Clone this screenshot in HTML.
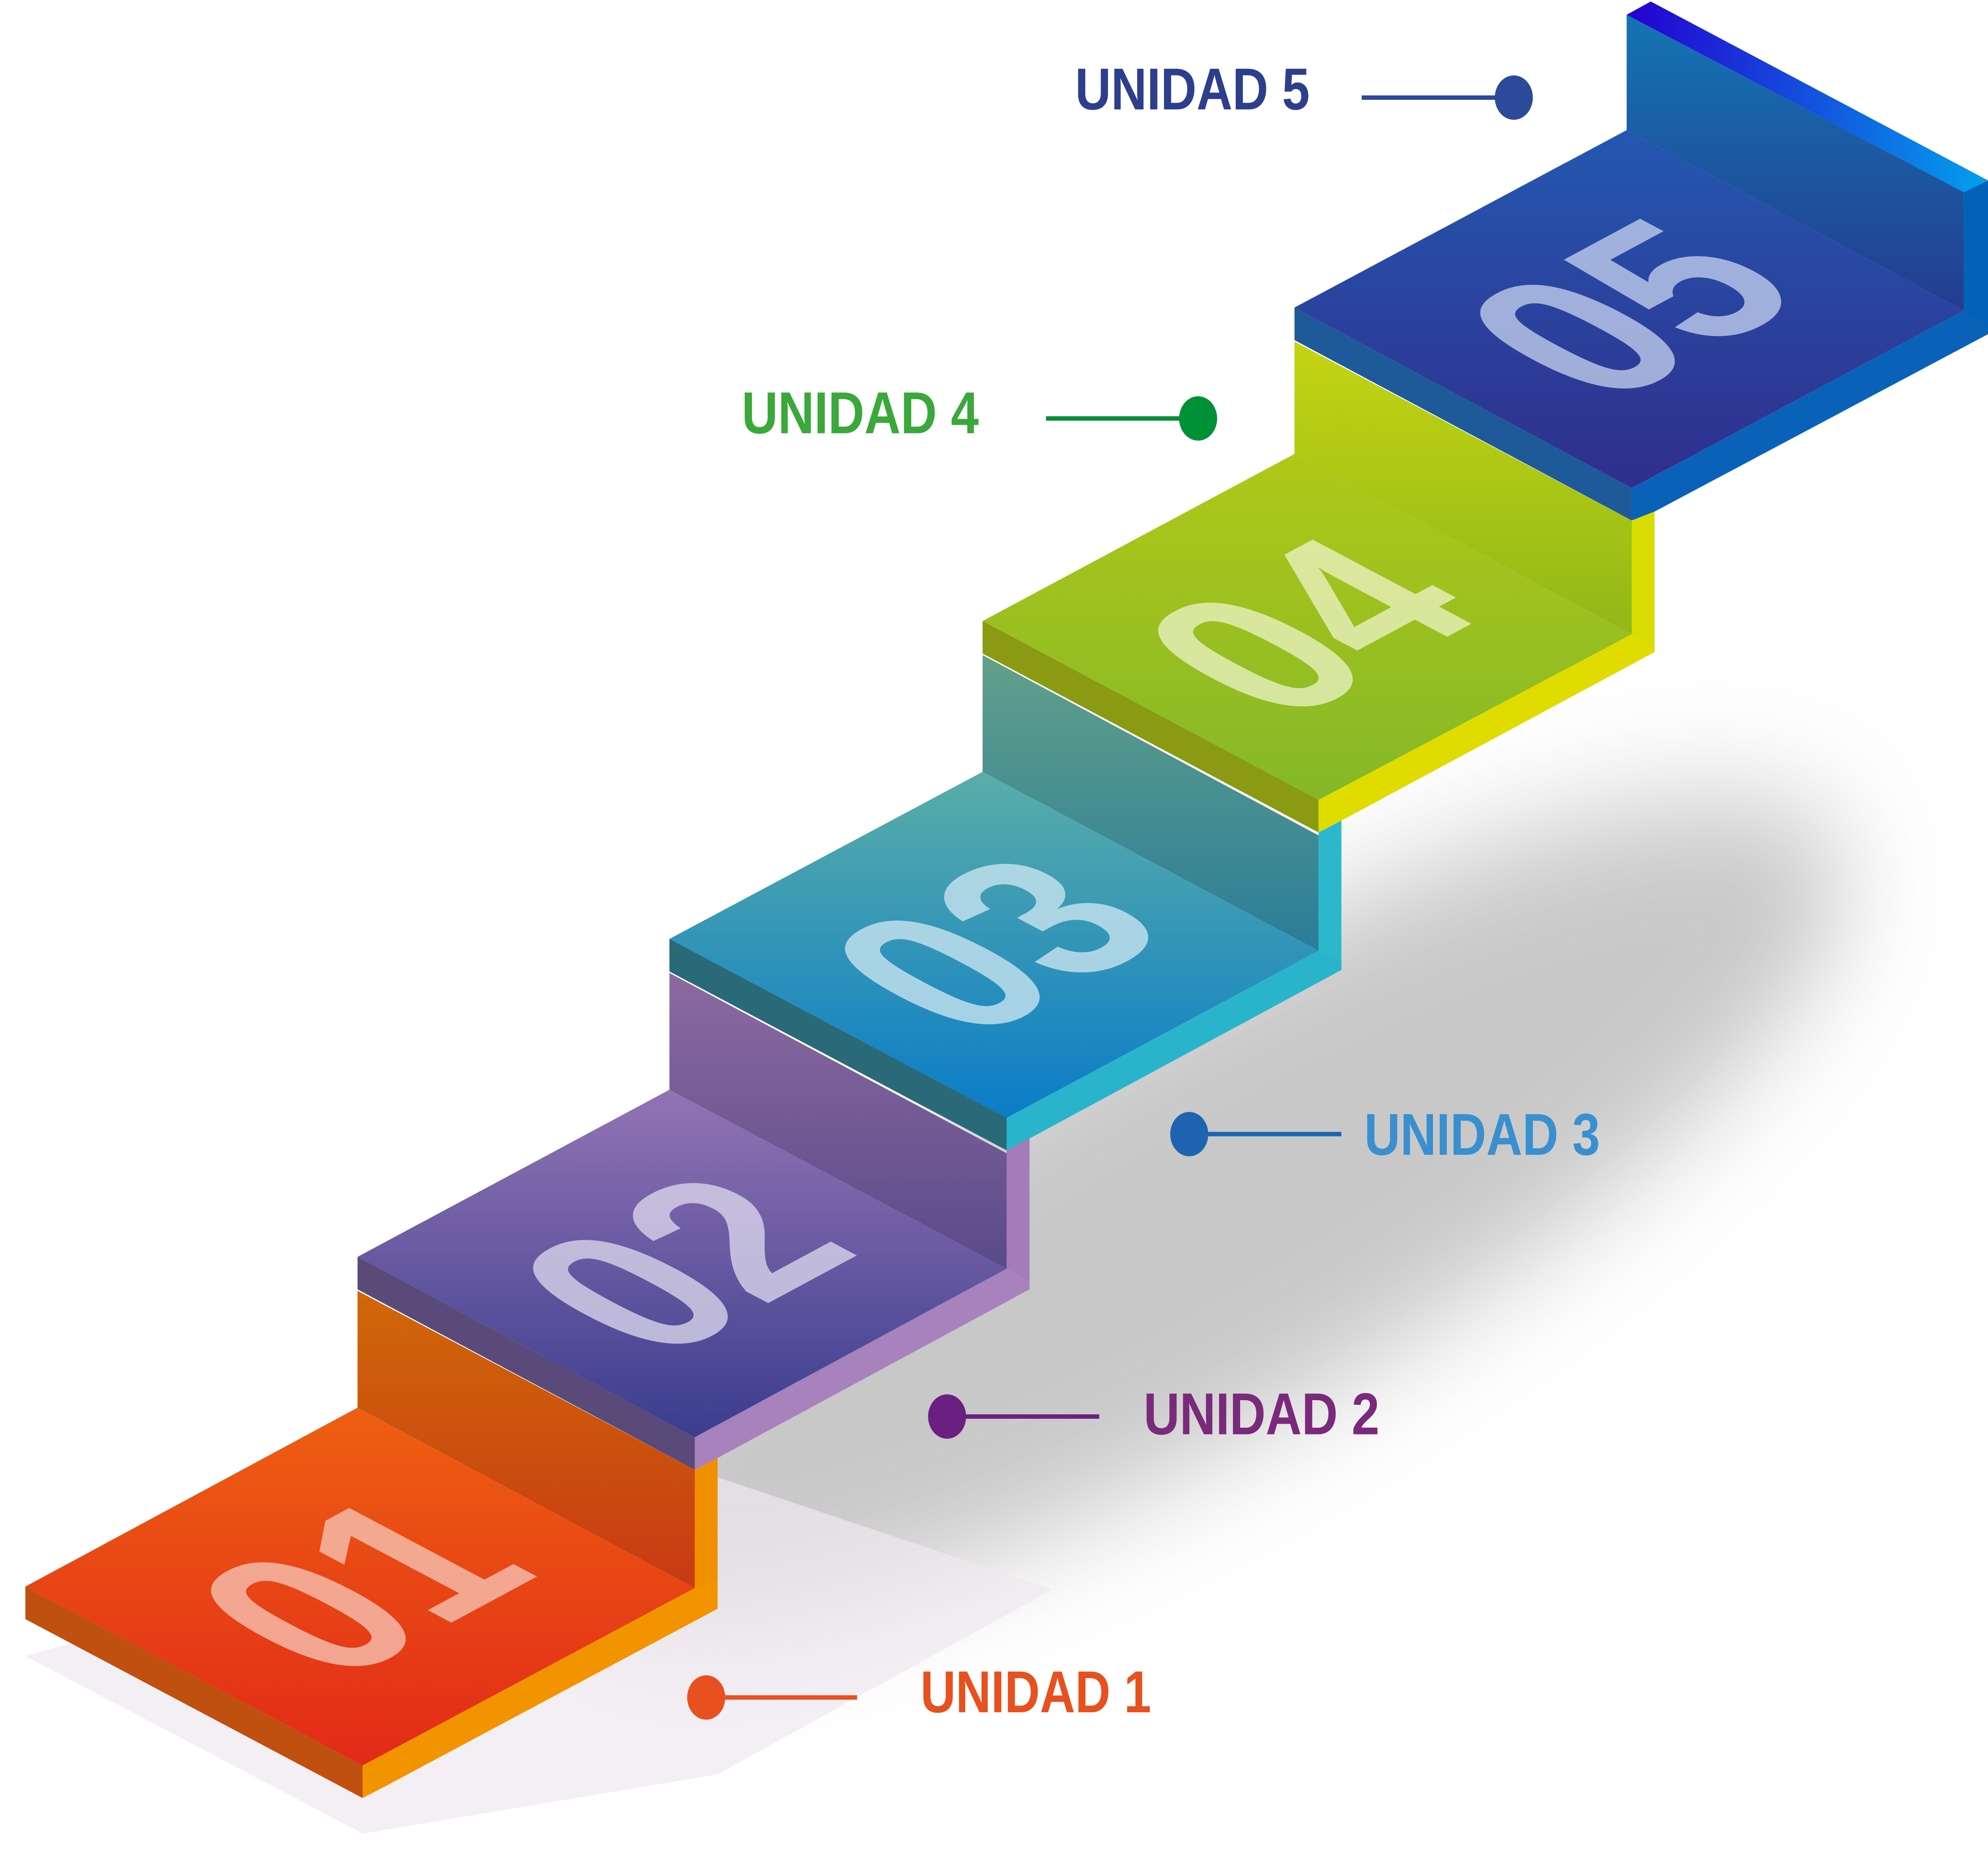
<!DOCTYPE html>
<html><head><meta charset="utf-8">
<meta name="viewport" content="width=5825">
<style>
html,body{margin:0;padding:0;background:#fff;width:100%;height:100%;overflow:hidden;}
svg{display:block;position:fixed;left:0;top:0;width:100vw;height:100vh;}
</style>
</head><body>
<svg viewBox="0 0 1568 1264" preserveAspectRatio="none" xmlns="http://www.w3.org/2000/svg">
<defs>
<filter id="bl" x="-50%" y="-50%" width="200%" height="200%"><feGaussianBlur stdDeviation="40"/></filter>
<linearGradient id="g1" x1="0" y1="0" x2="0" y2="1"><stop offset="0" stop-color="#ee6012"/><stop offset="1" stop-color="#e22a18"/></linearGradient>
<linearGradient id="r2" x1="0" y1="0" x2="0" y2="1"><stop offset="0" stop-color="#d06808"/><stop offset="1" stop-color="#c83a14"/></linearGradient>
<linearGradient id="g2" x1="0" y1="0" x2="0" y2="1"><stop offset="0" stop-color="#9274b4"/><stop offset="1" stop-color="#3a3d8e"/></linearGradient>
<linearGradient id="r3" x1="0" y1="0" x2="0" y2="1"><stop offset="0" stop-color="#8c6aa0"/><stop offset="1" stop-color="#5a4a8a"/></linearGradient>
<linearGradient id="g3" x1="0" y1="0" x2="0" y2="1"><stop offset="0" stop-color="#5aaea8"/><stop offset="1" stop-color="#0a7cc8"/></linearGradient>
<linearGradient id="r4" x1="0" y1="0" x2="0" y2="1"><stop offset="0" stop-color="#62a08a"/><stop offset="1" stop-color="#2a7c98"/></linearGradient>
<linearGradient id="g4" x1="0" y1="0" x2="0" y2="1"><stop offset="0" stop-color="#b0c818"/><stop offset="1" stop-color="#84b828"/></linearGradient>
<linearGradient id="r5" x1="0" y1="0" x2="0" y2="1"><stop offset="0" stop-color="#c4d412"/><stop offset="1" stop-color="#90b818"/></linearGradient>
<linearGradient id="g5" x1="0" y1="0" x2="0" y2="1"><stop offset="0" stop-color="#2458b0"/><stop offset="1" stop-color="#302e8c"/></linearGradient>
<linearGradient id="w5" x1="0" y1="0" x2="0" y2="1"><stop offset="0" stop-color="#1474b4"/><stop offset="1" stop-color="#243c8e"/></linearGradient>
<linearGradient id="t5" x1="0" y1="0" x2="1" y2="0"><stop offset="0" stop-color="#2400d0"/><stop offset="1" stop-color="#03a0ec"/></linearGradient>
</defs>

<g filter="url(#bl)" opacity="0.4">
<ellipse cx="950" cy="820" rx="560" ry="150" transform="rotate(-26 950 820)" fill="#777"/>
</g>
<polygon points="548,994 830,1075 566,1200 286,1240 20,1120" fill="#efe8f0" opacity="0.7"/>

<polygon points="1283,10 1302,1 1568,122 1549,130" fill="url(#t5)"/>
<polygon points="1283,10 1549,130 1549,210 1283,88" fill="url(#w5)"/>
<polygon points="1549,130 1568,122 1568,226 1549,210" fill="#0262ba"/>

<polygon points="1021,208 1283,88 1549,210 1287,330" fill="url(#g5)"/>
<polygon points="1021,208 1287,330 1287,352 1021,230" fill="#1e5a9a"/>
<polygon points="1287,330 1549,210 1568,222 1568,226 1305,346 1287,352" fill="#0a62b8"/>

<polygon points="1021,231 1287,352 1287,429 1021,307" fill="url(#r5)"/>
<polygon points="1287,352 1305,346 1305,441 1287,429" fill="#d8dc00"/>
<polygon points="775,420 1021,307 1287,429 1040,541" fill="url(#g4)"/>
<polygon points="775,420 1040,541 1040,563 775,442" fill="#8a9a12"/>
<polygon points="1040,541 1287,429 1305,437 1305,441 1058,555 1040,563" fill="#e0dc00"/>

<polygon points="775,443 1040,565 1040,643 775,522" fill="url(#r4)"/>
<polygon points="1040,563 1058,555 1058,656 1040,643" fill="#2cb8cc"/>
<polygon points="528,635 775,522 1040,643 794,756" fill="url(#g3)"/>
<polygon points="528,635 794,756 794,778 528,657" fill="#2a6a78"/>
<polygon points="794,756 1040,643 1058,650 1058,656 812,770 794,778" fill="#2ab4cc"/>

<polygon points="528,658 794,780 794,858 528,737" fill="url(#r3)"/>
<polygon points="794,778 812,770 812,872 794,858" fill="#a47cb8"/>
<polygon points="282,850 528,737 794,858 548,972" fill="url(#g2)"/>
<polygon points="282,850 548,972 548,994 282,872" fill="#5a4a7a"/>
<polygon points="548,972 794,858 812,866 812,872 566,986 548,994" fill="#a882bc"/>

<polygon points="282,873 548,994 548,1074 282,952" fill="url(#r2)"/>
<polygon points="548,994 566,986 566,1074 548,1074" fill="#f09000"/>
<polygon points="20,1073 282,952 548,1074 286,1194" fill="url(#g1)"/>
<polygon points="20,1073 286,1194 286,1216 20,1095" fill="#c05010"/>
<polygon points="286,1194 548,1074 566,1068 566,1088 304,1208 286,1216" fill="#f29400"/>

<g font-family="Liberation Sans, sans-serif" font-weight="bold" font-size="200" text-anchor="middle" dominant-baseline="central">
<text transform="matrix(0.726,-0.335,0.91,0.414,284,1073)" fill="#f6c0b0" opacity="0.8">01</text>
<text transform="matrix(0.726,-0.335,0.91,0.414,538,855)" fill="#d8d4ea" opacity="0.8">02</text>
<text transform="matrix(0.726,-0.335,0.91,0.414,784,639)" fill="#c8e4f0" opacity="0.8">03</text>
<text transform="matrix(0.726,-0.335,0.91,0.414,1031,424)" fill="#eef4c8" opacity="0.75">04</text>
<text transform="matrix(0.726,-0.335,0.91,0.414,1285,209)" fill="#c8d4f0" opacity="0.75">05</text>
</g>

<g font-family="Liberation Sans, sans-serif" font-weight="bold" font-size="40">
<text x="848" y="74" fill="#2d3e8c" textLength="185" lengthAdjust="spacingAndGlyphs">UNIDAD 5</text>
<line x1="1074" y1="66" x2="1194" y2="66" stroke="#2d4a9a" stroke-width="3"/>
<circle cx="1194" cy="66" r="15" fill="#2d4a9a"/>

<text x="585" y="293" fill="#3aa83a" textLength="187" lengthAdjust="spacingAndGlyphs">UNIDAD 4</text>
<line x1="825" y1="283" x2="945" y2="283" stroke="#009035" stroke-width="3"/>
<circle cx="945" cy="283" r="15" fill="#009035"/>

<text x="1076" y="781" fill="#3a8fd0" textLength="186" lengthAdjust="spacingAndGlyphs">UNIDAD 3</text>
<line x1="938" y1="767" x2="1058" y2="767" stroke="#1e64b0" stroke-width="3"/>
<circle cx="938" cy="767" r="15" fill="#1e64b0"/>

<text x="902" y="970" fill="#7a2a7a" textLength="186" lengthAdjust="spacingAndGlyphs">UNIDAD 2</text>
<line x1="747" y1="958" x2="867" y2="958" stroke="#6a2080" stroke-width="3"/>
<circle cx="747" cy="958" r="15" fill="#6a2080"/>

<text x="726" y="1158" fill="#e8501f" textLength="182" lengthAdjust="spacingAndGlyphs">UNIDAD 1</text>
<line x1="557" y1="1148" x2="676" y2="1148" stroke="#e8501f" stroke-width="3"/>
<circle cx="557" cy="1148" r="15" fill="#e8501f"/>
</g>
</svg>
</body></html>
